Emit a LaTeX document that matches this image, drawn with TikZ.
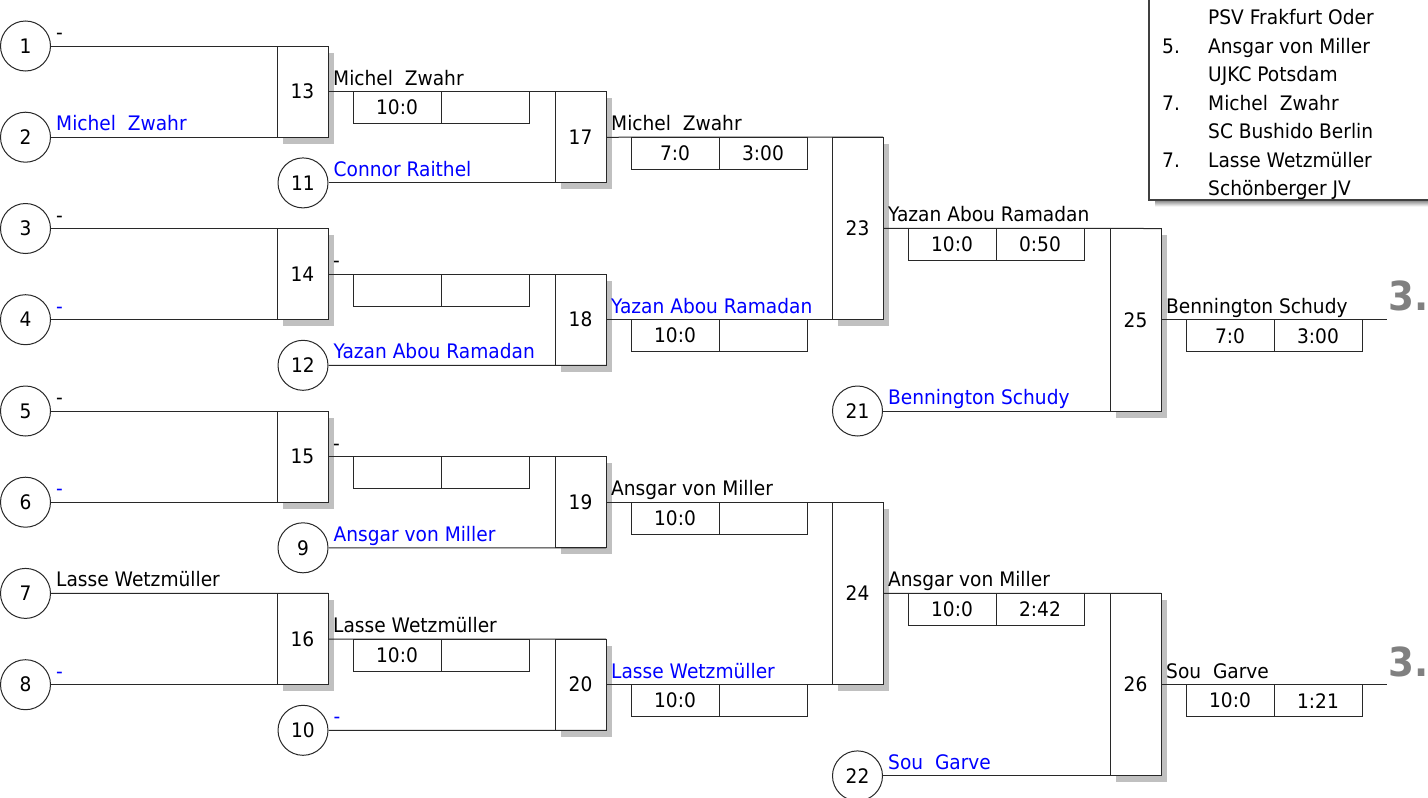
\documentclass[tikz,border=0pt]{standalone}
\usepackage{fontspec}
\setmainfont{DejaVu Sans}[FakeStretch=0.93]
\usetikzlibrary{shadows}
\definecolor{nameblue}{RGB}{0,0,255}
\definecolor{shade}{RGB}{192,192,192}
\definecolor{rankgray}{RGB}{128,128,128}
\definecolor{legendline}{RGB}{64,64,64}
\definecolor{linegray}{RGB}{40,40,40}
\begin{document}
\begin{tikzpicture}[x=1pt,y=-1pt,
  every node/.style={font=\fontsize{20pt}{24pt}\selectfont},
  player/.style={circle, draw=linegray, line width=1pt, minimum size=50pt, inner sep=0pt, fill=white},
  matchbox/.style={draw=linegray, line width=1pt, fill=white, minimum width=51pt, inner sep=0pt, outer sep=0pt,
    drop shadow={shadow xshift=6pt, shadow yshift=-6.5pt, fill=shade, opacity=1}},
  cell/.style={draw=linegray, line width=1pt, minimum width=88pt, minimum height=32pt, inner sep=0pt, outer sep=0pt, anchor=north west},
  namelbl/.style={anchor=base west, inner sep=0pt},
  winner/.style={namelbl},
  loser/.style={namelbl, text=nameblue},
  link/.style={line width=1pt, draw=linegray},
  rank/.style={anchor=base west, inner sep=0pt, text=rankgray, font=\fontsize{40pt}{44pt}\selectfont\bfseries},
  leg/.style={anchor=base west, inner sep=0pt}
]
\useasboundingbox (0,0) rectangle (1428,798);

% legend
\fill[shade] (1155,200) rectangle (1440,206.5);
\draw[legendline, line width=1.3pt] (1149,-5) -- (1149,200) -- (1440,200);
\node[leg] (l1) at (1208,24) {PSV Frakfurt Oder};
\node[leg] (l2n) at (1162,53) {5.};
\node[leg] (l2) at (1208,53) {Ansgar von Miller};
\node[leg] (l3) at (1208,81.5) {UJKC Potsdam};
\node[leg] (l4n) at (1162,110) {7.};
\node[leg] (l4) at (1208,110) {Michel\ \ Zwahr};
\node[leg] (l5) at (1208,138.5) {SC Bushido Berlin};
\node[leg] (l6n) at (1162,167) {7.};
\node[leg] (l6) at (1208,167) {Lasse Wetzmüller};
\node[leg] (l7) at (1208,195) {Schönberger JV};

% match boxes
\node[matchbox, minimum height=91.2pt] (m13) at (302.5,91.6) {13};
\node[matchbox, minimum height=91.2pt] (m14) at (302.5,274.1) {14};
\node[matchbox, minimum height=91.2pt] (m15) at (302.5,456.6) {15};
\node[matchbox, minimum height=91.3pt] (m16) at (302.5,639.05) {16};
\node[matchbox, minimum height=91.3pt] (m17) at (580.5,137.25) {17};
\node[matchbox, minimum height=91.2pt] (m18) at (580.5,319.7) {18};
\node[matchbox, minimum height=91.2pt] (m19) at (580.5,502.2) {19};
\node[matchbox, minimum height=91.2pt] (m20) at (580.5,684.7) {20};
\node[matchbox, minimum height=182.5pt] (m23) at (857.5,228.45) {23};
\node[matchbox, minimum height=182.5pt] (m24) at (857.5,593.45) {24};
\node[matchbox, minimum height=182.5pt] (m25) at (1135.5,319.75) {25};
\node[matchbox, minimum height=182.5pt] (m26) at (1135.5,684.65) {26};

% players
\node[player] (c1) at (25.5,46) {1};
\node[player] (c2) at (25.5,137.2) {2};
\node[player] (c3) at (25.5,228.5) {3};
\node[player] (c4) at (25.5,319.7) {4};
\node[player] (c5) at (25.5,411) {5};
\node[player] (c6) at (25.5,502.2) {6};
\node[player] (c7) at (25.5,593.4) {7};
\node[player] (c8) at (25.5,684.7) {8};
\node[player] (c11) at (303,182.9) {11};
\node[player] (c12) at (303,365.3) {12};
\node[player] (c9) at (303,547.8) {9};
\node[player] (c10) at (303,730.3) {10};
\node[player] (c21) at (857.5,411) {21};
\node[player] (c22) at (857.5,775.9) {22};

\coordinate (f25) at (1387,319.75);
\coordinate (f26) at (1387,684.65);

% connectors
\draw[link] (c1.east) -- (m13.north east);
\draw[link] (c2.east) -- (m13.south east);
\draw[link] (c3.east) -- (m14.north east);
\draw[link] (c4.east) -- (m14.south east);
\draw[link] (c5.east) -- (m15.north east);
\draw[link] (c6.east) -- (m15.south east);
\draw[link] (c7.east) -- (m16.north east);
\draw[link] (c8.east) -- (m16.south east);
\draw[link] (m13.east) -- (m17.north east);
\draw[link] (c11.east) -- (m17.south east);
\draw[link] (m14.east) -- (m18.north east);
\draw[link] (c12.east) -- (m18.south east);
\draw[link] (m15.east) -- (m19.north east);
\draw[link] (c9.east) -- (m19.south east);
\draw[link] (m16.east) -- (m20.north east);
\draw[link] (c10.east) -- (m20.south east);
\draw[link] (m17.east) -- (m23.north east);
\draw[link] (m18.east) -- (m23.south east);
\draw[link] (m19.east) -- (m24.north east);
\draw[link] (m20.east) -- (m24.south east);
\draw[link] (m23.east) -- (m25.north east);
\draw[link] (c21.east) -- (m25.south east);
\draw[link] (m24.east) -- (m26.north east);
\draw[link] (c22.east) -- (m26.south east);
\draw[link] (m25.east) -- (f25);
\draw[link] (m26.east) -- (f26);

% name labels
\node[winner] (t1) at ([xshift=5pt,yshift=6.5pt]c1.east) {-};
\node[loser]  (t2) at ([xshift=5pt,yshift=6.5pt]c2.east) {Michel\ \ Zwahr};
\node[winner] (t3) at ([xshift=5pt,yshift=6.5pt]c3.east) {-};
\node[loser]  (t4) at ([xshift=5pt,yshift=6.5pt]c4.east) {-};
\node[winner] (t5) at ([xshift=5pt,yshift=6.5pt]c5.east) {-};
\node[loser]  (t6) at ([xshift=5pt,yshift=6.5pt]c6.east) {-};
\node[winner] (t7) at ([xshift=5pt,yshift=6.5pt]c7.east) {Lasse Wetzmüller};
\node[loser]  (t8) at ([xshift=5pt,yshift=6.5pt]c8.east) {-};
\node[winner] (t13) at ([xshift=5pt,yshift=6.5pt]m13.east) {Michel\ \ Zwahr};
\node[loser]  (t11) at ([xshift=5pt,yshift=6.5pt]c11.east) {Connor Raithel};
\node[winner] (t14) at ([xshift=5pt,yshift=6.5pt]m14.east) {-};
\node[loser]  (t12) at ([xshift=5pt,yshift=6.5pt]c12.east) {Yazan Abou Ramadan};
\node[winner] (t15) at ([xshift=5pt,yshift=6.5pt]m15.east) {-};
\node[loser]  (t9) at ([xshift=5pt,yshift=6.5pt]c9.east) {Ansgar von Miller};
\node[winner] (t16) at ([xshift=5pt,yshift=6.5pt]m16.east) {Lasse Wetzmüller};
\node[loser]  (t10) at ([xshift=5pt,yshift=6.5pt]c10.east) {-};
\node[winner] (t17) at ([xshift=5pt,yshift=6.5pt]m17.east) {Michel\ \ Zwahr};
\node[loser]  (t18) at ([xshift=5pt,yshift=6.5pt]m18.east) {Yazan Abou Ramadan};
\node[winner] (t19) at ([xshift=5pt,yshift=6.5pt]m19.east) {Ansgar von Miller};
\node[loser]  (t20) at ([xshift=5pt,yshift=6.5pt]m20.east) {Lasse Wetzmüller};
\node[winner] (t23) at ([xshift=5pt,yshift=6.5pt]m23.east) {Yazan Abou Ramadan};
\node[loser]  (t21) at ([xshift=5pt,yshift=6.5pt]c21.east) {Bennington Schudy};
\node[winner] (t24) at ([xshift=5pt,yshift=6.5pt]m24.east) {Ansgar von Miller};
\node[loser]  (t22) at ([xshift=5pt,yshift=6.5pt]c22.east) {Sou\ \ Garve};
\node[winner] (t25) at ([xshift=5pt,yshift=6.5pt]m25.east) {Bennington Schudy};
\node[winner] (t26) at ([xshift=5pt,yshift=6.5pt]m26.east) {Sou\ \ Garve};

% score cells
\node[cell] (s13a) at ([xshift=25pt]m13.east) {10:0};
\node[cell] (s13b) at (s13a.north east) {};
\node[cell] (s14a) at ([xshift=25pt]m14.east) {};
\node[cell] (s14b) at (s14a.north east) {};
\node[cell] (s15a) at ([xshift=25pt]m15.east) {};
\node[cell] (s15b) at (s15a.north east) {};
\node[cell] (s16a) at ([xshift=25pt]m16.east) {10:0};
\node[cell] (s16b) at (s16a.north east) {};
\node[cell] (s17a) at ([xshift=25pt]m17.east) {7:0};
\node[cell] (s17b) at (s17a.north east) {3:00};
\node[cell] (s18a) at ([xshift=25pt]m18.east) {10:0};
\node[cell] (s18b) at (s18a.north east) {};
\node[cell] (s19a) at ([xshift=25pt]m19.east) {10:0};
\node[cell] (s19b) at (s19a.north east) {};
\node[cell] (s20a) at ([xshift=25pt]m20.east) {10:0};
\node[cell] (s20b) at (s20a.north east) {};
\node[cell] (s23a) at ([xshift=25pt]m23.east) {10:0};
\node[cell] (s23b) at (s23a.north east) {0:50};
\node[cell] (s24a) at ([xshift=25pt]m24.east) {10:0};
\node[cell] (s24b) at (s24a.north east) {2:42};
\node[cell] (s25a) at ([xshift=25pt]m25.east) {7:0};
\node[cell] (s25b) at (s25a.north east) {3:00};
\node[cell] (s26a) at ([xshift=25pt]m26.east) {10:0};
\node[cell] (s26b) at (s26a.north east) {1:21};

% ranks
\node[rank] (r25) at ([xshift=1pt,yshift=9pt]f25) {3.};
\node[rank] (r26) at ([xshift=1pt,yshift=8pt]f26) {3.};
\end{tikzpicture}
\end{document}
